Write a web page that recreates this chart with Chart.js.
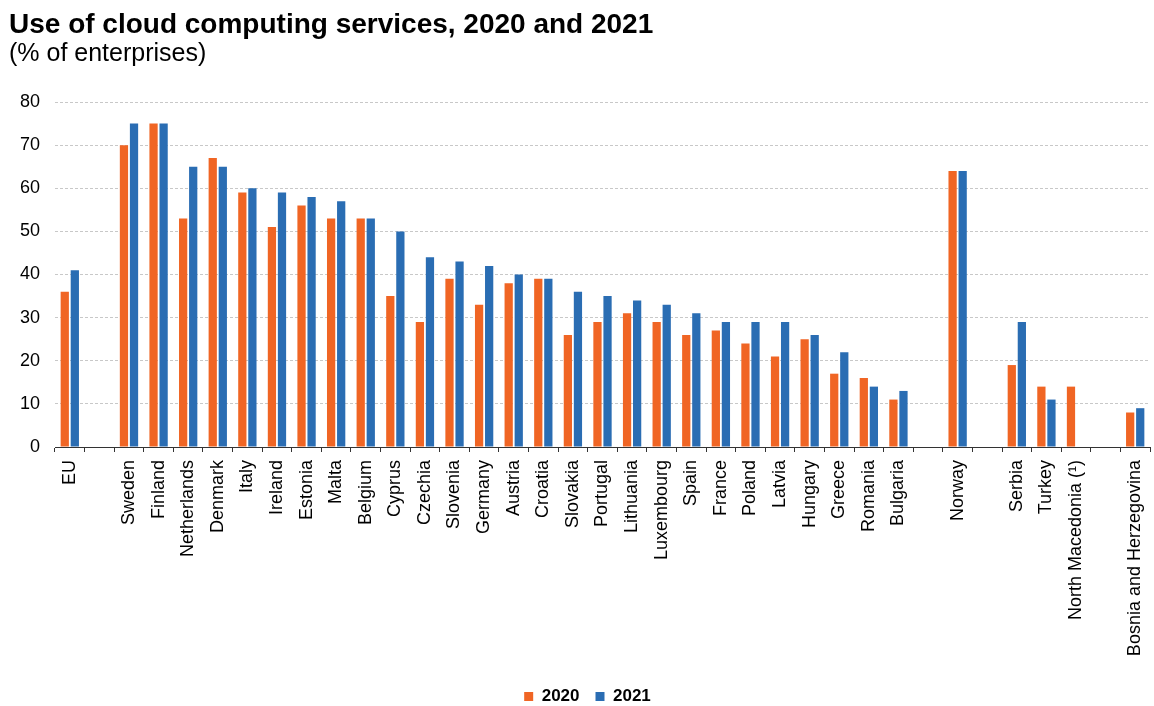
<!DOCTYPE html>
<html>
<head>
<meta charset="utf-8">
<script src="https://cdn.jsdelivr.net/npm/chart.js@4"></script>
<style>
html,body{margin:0;padding:0;background:#fff;}
#wrap{width:1154px;height:706px;position:relative;}
</style>
</head>
<body>
<div id="wrap"><canvas id="c"></canvas></div>
<script>
const categories = ["EU", "", "Sweden", "Finland", "Netherlands", "Denmark", "Italy", "Ireland", "Estonia", "Malta", "Belgium", "Cyprus", "Czechia", "Slovenia", "Germany", "Austria", "Croatia", "Slovakia", "Portugal", "Lithuania", "Luxembourg", "Spain", "France", "Poland", "Latvia", "Hungary", "Greece", "Romania", "Bulgaria", "", "Norway", "", "Serbia", "Turkey", "North Macedonia (¹)", "", "Bosnia and Herzegovina"];
const values2020 = [36, null, 70, 75, 53, 67, 59, 51, 56, 53, 53, 35, 29, 39, 33, 38, 39, 26, 29, 31, 29, 26, 27, 24, 21, 25, 17, 16, 11, null, 64, null, 19, 14, 14, null, 8];
const values2021 = [41, null, 75, 75, 65, 65, 60, 59, 58, 57, 53, 50, 44, 43, 42, 40, 39, 36, 35, 34, 33, 31, 29, 29, 29, 26, 22, 14, 13, null, 64, null, 29, 11, null, null, 9];
const seriesLabels = ["2020", "2021"];
const yTicks = [0, 10, 20, 30, 40, 50, 60, 70, 80];

const FONT = "'Liberation Sans', Arial, sans-serif";
Chart.defaults.font.family = FONT;
Chart.defaults.color = "#000";

const legendShift = {
  id: "legendShift",
  afterLayout(chart) {
    if (chart.legend) { chart.legend.left += 8; chart.legend.right += 8; }
  }
};

new Chart(document.getElementById("c"), {
  type: "bar",
  plugins: [legendShift],
  data: {
    labels: categories,
    datasets: [
      { label: seriesLabels[0], data: values2020, backgroundColor: "#F06524", borderWidth: 0, categoryPercentage: 0.68, barPercentage: 0.82 },
      { label: seriesLabels[1], data: values2021, backgroundColor: "#2A6DB3", borderWidth: 0, categoryPercentage: 0.68, barPercentage: 0.82 }
    ]
  },
  options: {
    responsive: true,
    maintainAspectRatio: false,
    animation: false,
    devicePixelRatio: 1,
    layout: { padding: { left: 9, right: 4, top: 0, bottom: -9 } },
    plugins: {
      title: {
        display: true,
        text: "Use of cloud computing services, 2020 and 2021",
        align: "start",
        color: "#000",
        font: { size: 28, weight: "bold", family: FONT, lineHeight: 1 },
        padding: { top: 11, bottom: 2 }
      },
      subtitle: {
        display: true,
        text: "(% of enterprises)",
        align: "start",
        color: "#000",
        font: { size: 25, weight: "normal", family: FONT, lineHeight: 1 },
        padding: { top: 1, bottom: 35 }
      },
      legend: {
        display: true,
        position: "bottom",
        labels: {
          boxWidth: 9,
          boxHeight: 9,
          color: "#000",
          padding: 16,
          font: { size: 17, weight: "bold", family: FONT },
          generateLabels(chart) {
            return chart.data.datasets.map((ds, i) => ({
              text: ds.label,
              fillStyle: ds.backgroundColor,
              strokeStyle: ds.backgroundColor,
              lineWidth: 0,
              hidden: false,
              datasetIndex: i,
              fontColor: "#000"
            }));
          }
        }
      },
      tooltip: { enabled: false }
    },
    scales: {
      x: {
        offset: true,
        afterFit(scale) { scale.height = 225; scale.paddingLeft = 0; scale.paddingRight = 0; },
        grid: { display: true, drawOnChartArea: false, drawTicks: true, tickLength: 5, color: "#333", offset: true },
        border: { display: true, color: "#333", width: 1 },
        ticks: {
          autoSkip: false,
          minRotation: 90,
          maxRotation: 90,
          padding: 8,
          color: "#000",
          font: { size: 18, family: FONT }
        }
      },
      y: {
        min: 0,
        max: 80,
        afterBuildTicks(scale) { scale.ticks = yTicks.map(v => ({ value: v })); },
        afterFit(scale) { scale.width = 46; },
        grid: { display: true, color: "#c8c8c8", lineWidth: 1, drawTicks: false },
        border: { display: false, dash: [3, 2] },
        ticks: { padding: 15, color: "#000", font: { size: 18, family: FONT } }
      }
    }
  }
});
</script>
</body>
</html>
